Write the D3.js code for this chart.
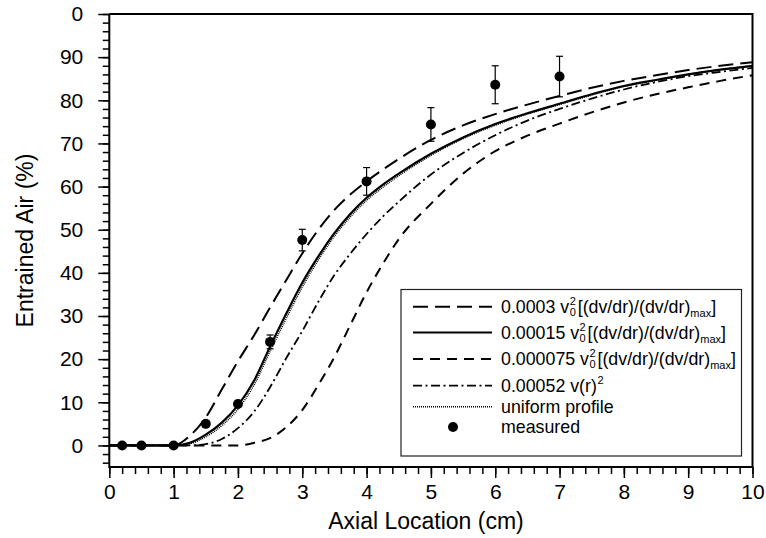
<!DOCTYPE html>
<html>
<head>
<meta charset="utf-8">
<script src="https://cdn.jsdelivr.net/npm/d3@7"></script>
<style>
  body { margin: 0; background: #fff; }
  text { font-family: 'Liberation Sans', Arial, Helvetica, sans-serif; fill: #000; }
</style>
</head>
<body>
<div id="chart"></div>
<script>
// curve sample positions (cm)
const curveX = [0, 0.5, 1, 1.25, 1.5, 1.75, 2, 2.25, 2.5, 2.75, 3, 3.25, 3.5, 3.75, 4, 4.25, 4.5, 5, 5.5, 6, 6.5, 7, 7.5, 8, 8.5, 9, 9.5, 10];
// entrained air (%)
const curve0003 = [0, 0, 0, 2.2, 6.5, 13, 19.5, 25.5, 32, 38.3, 44.5, 50, 54.6, 58.2, 61.2, 63.9, 66.4, 70.8, 74.2, 76.8, 79, 81, 82.9, 84.5, 85.8, 87, 88, 88.8];
const curve00015 = [0, 0, 0, 0.6, 2.5, 5.3, 9.3, 15, 22.9, 30.5, 37.7, 43.8, 49.2, 53.7, 57.4, 60.4, 63, 67.6, 71.4, 74.5, 77, 79.2, 81.4, 83.3, 84.7, 86, 87.1, 88];
const curve000075 = [0, 0, 0, 0, 0, 0, 0, 0.6, 1.7, 4.2, 8.2, 14, 20.5, 28, 35.5, 42, 47.8, 56, 63, 68.2, 71.8, 74.6, 77.2, 79.5, 81.4, 83, 84.5, 85.8];
const curve00052 = [0, 0, 0, 0, 0.3, 1.5, 4, 7.8, 13.5, 20.2, 26.5, 33.3, 39.5, 44.5, 49, 53, 56.5, 62.8, 67.8, 71.9, 75.3, 78, 80.4, 82.5, 84.2, 85.6, 86.6, 87.5];
const curveUniform = [0, 0, 0, 0.4, 2, 4.6, 8.4, 14, 21.8, 29.4, 36.7, 43, 48.5, 53, 56.8, 59.8, 62.5, 67.2, 71.1, 74.2, 76.8, 79, 81.2, 83.2, 84.6, 86, 87.1, 88];

// measured points with error bars
const measX = [0.2, 0.5, 1, 1.5, 2, 2.5, 3, 4, 5, 6, 7];
const measY = [0, 0, 0, 5, 9.6, 24, 47.6, 61.2, 74.4, 83.6, 85.5];
const measErr = [0, 0, 0, 0, 0, 1.6, 2.5, 3.2, 3.9, 4.4, 4.7];

const xTicks = [0, 1, 2, 3, 4, 5, 6, 7, 8, 9, 10];
const yTicks = [0, 10, 20, 30, 40, 50, 60, 70, 80, 90, 100];
const yTickLabels = ['0', '10', '20', '30', '40', '50', '60', '70', '80', '90', '0'];

const W = 766, H = 538;
const svg = d3.select('#chart').append('svg').attr('width', W).attr('height', H);

const x = d3.scaleLinear().domain([0, 10]).range([109.3, 752.5]);
const y = d3.scaleLinear().domain([-5, 100]).range([467, 14]);

// frame (top and right)
svg.append('path')
  .attr('d', `M${x(0)},${y(100)}H${x(10)}V${y(-5)}`)
  .attr('fill', 'none').attr('stroke', '#000').attr('stroke-width', 2);

// minor ticks
svg.append('g')
  .attr('transform', `translate(0,${y(-5)})`)
  .call(d3.axisBottom(x).tickValues(d3.range(0, 51).map(i => i / 5)).tickSize(7).tickFormat(''))
  .call(g => g.select('.domain').remove())
  .call(g => g.selectAll('line').attr('stroke-width', 1.5));
svg.append('g')
  .attr('transform', `translate(${x(0)},0)`)
  .call(d3.axisLeft(y).tickValues(d3.range(-4, 101, 2)).tickSize(6.5).tickFormat(''))
  .call(g => g.select('.domain').remove())
  .call(g => g.selectAll('line').attr('stroke-width', 1.5));

// major ticks
const xAxis = svg.append('g')
  .attr('transform', `translate(0,${y(-5)})`)
  .call(d3.axisBottom(x).tickValues(xTicks).tickSize(11).tickPadding(6).tickFormat(d3.format('d')));
const yAxis = svg.append('g')
  .attr('transform', `translate(${x(0)},0)`)
  .call(d3.axisLeft(y).tickValues(yTicks).tickSize(11).tickPadding(15).tickFormat((d, i) => yTickLabels[i]));

[xAxis, yAxis].forEach(a => {
  a.select('.domain').remove();
  a.selectAll('line').attr('stroke-width', 1.5);
  a.selectAll('text').style('font-size', '21px').attr('fill', '#000');
});
svg.append('path')
  .attr('d', `M${x(0)},${y(100)}V${y(-5)}H${x(10)}`)
  .attr('fill', 'none').attr('stroke', '#000').attr('stroke-width', 2);

// axis titles
svg.append('text')
  .attr('x', 426).attr('y', 529)
  .attr('text-anchor', 'middle')
  .style('font-size', '23px')
  .text('Axial Location (cm)');
svg.append('text')
  .attr('transform', `translate(33,${(y(100) + y(-5)) / 2}) rotate(-90)`)
  .attr('text-anchor', 'middle')
  .style('font-size', '23px')
  .text('Entrained Air (%)');

// curves
const series = [
  { vals: curve0003, dash: '15,7', w: 2 },
  { vals: curve00015, dash: null, w: 2.2 },
  { vals: curve000075, dash: '10,7', w: 2 },
  { vals: curve00052, dash: '9,3.5,2,3.5', w: 1.8 },
  { vals: curveUniform, dash: '1,1', w: 1.5 },
];
const line = d3.line().x(d => x(d[0])).y(d => y(d[1])).curve(d3.curveMonotoneX);
series.forEach(s => {
  svg.append('path')
    .datum(curveX.map((cx, i) => [cx, s.vals[i]]))
    .attr('d', line)
    .attr('fill', 'none')
    .attr('stroke', '#000')
    .attr('stroke-width', s.w)
    .attr('stroke-dasharray', s.dash);
});

// measured points + error bars
const meas = measX.map((mx, i) => ({ x: mx, y: measY[i], e: measErr[i] }));
const eb = svg.append('g').attr('stroke', '#000').attr('stroke-width', 1.2);
meas.filter(d => d.e > 0).forEach(d => {
  eb.append('line').attr('x1', x(d.x)).attr('x2', x(d.x)).attr('y1', y(d.y - d.e)).attr('y2', y(d.y + d.e));
  [d.y - d.e, d.y + d.e].forEach(v => {
    eb.append('line').attr('x1', x(d.x) - 3.5).attr('x2', x(d.x) + 3.5).attr('y1', y(v)).attr('y2', y(v));
  });
});
svg.append('g').selectAll('circle')
  .data(meas)
  .enter()
  .append('circle')
  .attr('cx', d => x(d.x))
  .attr('cy', d => y(d.y))
  .attr('r', 5)
  .attr('fill', '#000');

// legend
const lg = svg.append('g');
lg.append('rect')
  .attr('x', 401).attr('y', 289.5).attr('width', 340.5).attr('height', 166.5)
  .attr('fill', '#fff').attr('stroke', '#222').attr('stroke-width', 1.2);

const fs = 17.8;
function richText(x0, base, parts) {
  let cx = x0;
  parts.forEach(p => {
    if (p.k === 'n') {
      const t = lg.append('text').attr('x', cx).attr('y', base).style('font-size', fs + 'px').text(p.t);
      cx += t.node().getComputedTextLength();
    } else if (p.k === 'vsq') {
      lg.append('text').attr('x', cx + 0.5).attr('y', base - 8).style('font-size', '11px').text('2');
      lg.append('text').attr('x', cx + 0.5).attr('y', base + 3).style('font-size', '11px').text('0');
      cx += 8.5;
    } else if (p.k === 'sub') {
      const t = lg.append('text').attr('x', cx).attr('y', base + 4).style('font-size', '11px').text(p.t);
      cx += t.node().getComputedTextLength();
    } else if (p.k === 'sup') {
      const t = lg.append('text').attr('x', cx + 0.5).attr('y', base - 8).style('font-size', '11px').text(p.t);
      cx += t.node().getComputedTextLength();
    }
  });
}
const fluxParts = c => [
  { k: 'n', t: c + ' v' }, { k: 'vsq' },
  { k: 'n', t: '[(dv/dr)/(dv/dr)' }, { k: 'sub', t: 'max' }, { k: 'n', t: ']' },
];
const legendRows = [
  { parts: fluxParts('0.0003'), s: series[0] },
  { parts: fluxParts('0.00015'), s: series[1] },
  { parts: fluxParts('0.000075'), s: series[2] },
  { parts: [{ k: 'n', t: '0.00052 v(r)' }, { k: 'sup', t: '2' }], s: series[3] },
  { parts: [{ k: 'n', t: 'uniform profile' }], s: series[4] },
  { parts: [{ k: 'n', t: 'measured' }], s: null },
];
const rowBase = [312.7, 338.5, 365, 391.7, 412.7, 433];
legendRows.forEach((r, i) => {
  const cy = rowBase[i] - 6;
  if (r.s) {
    lg.append('line')
      .attr('x1', 413).attr('x2', 492).attr('y1', cy).attr('y2', cy)
      .attr('stroke', '#000').attr('stroke-width', r.s.w)
      .attr('stroke-dasharray', r.s.dash);
  } else {
    lg.append('circle').attr('cx', 453).attr('cy', cy).attr('r', 5).attr('fill', '#000');
  }
  richText(501, rowBase[i], r.parts);
});
</script>
</body>
</html>
